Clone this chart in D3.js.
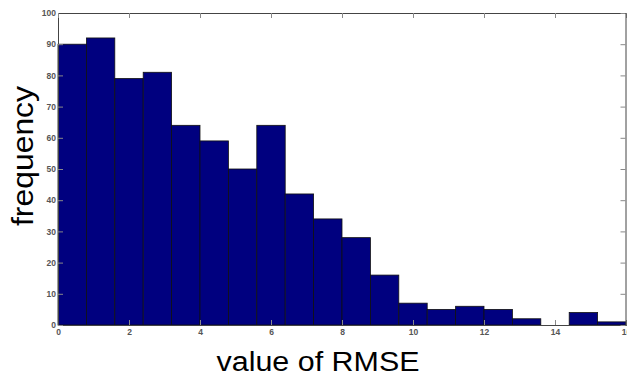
<!DOCTYPE html>
<html>
<head>
<meta charset="utf-8">
<script src="https://cdn.jsdelivr.net/npm/d3@7"></script>
<style>
  body { margin: 0; background: #fff; }
  svg { display: block; }
</style>
</head>
<body>
<div id="chart"></div>
<script>
// histogram of RMSE values, 20 bins from 0 to 16
var binStart = 0, binWidth = 0.8;
var counts = [90, 92, 79, 81, 64, 59, 50, 64, 42, 34, 28, 16, 7, 5, 6, 5, 2, 0, 4, 1];
var xTicks = [0, 2, 4, 6, 8, 10, 12, 14, 16];
var yTicks = [0, 10, 20, 30, 40, 50, 60, 70, 80, 90, 100];

var bins = counts.map((c, i) => ({x0: binStart + i * binWidth, x1: binStart + (i + 1) * binWidth, n: c}));

var width = 627, height = 378;
var margin = {left: 58, right: 1, top: 13, bottom: 53};

var svg = d3.select('#chart').append('svg')
  .attr('width', width)
  .attr('height', height);

var x = d3.scaleLinear()
  .domain([0, 16])
  .range([margin.left, width - margin.right]);
var y = d3.scaleLinear()
  .domain([0, 100])
  .range([height - margin.bottom, margin.top]);

// bars
svg.append('g')
  .selectAll('rect')
  .data(bins)
  .enter()
  .append('rect')
    .attr('x', d => x(d.x0))
    .attr('y', d => y(d.n))
    .attr('width', d => x(d.x1) - x(d.x0))
    .attr('height', d => y(0) - y(d.n))
    .attr('fill', '#00007f')
    .attr('stroke', '#111')
    .attr('stroke-width', 0.8);

// matlab style box with inward ticks
var tickColor = '#444';
var fontTick = '8.5px';

var xAxis = g => g
  .attr('transform', `translate(0,${y(0)})`)
  .call(d3.axisBottom(x).tickValues(xTicks).tickSize(-5).tickPadding(4).tickFormat(d3.format('d')))
  .call(g => g.select('.domain').attr('stroke', tickColor))
  .call(g => g.selectAll('.tick line').attr('stroke', '#888'))
  .call(g => g.selectAll('.tick text').attr('fill', '#555').attr('dy', '0.71em').attr('y', 4));

var yAxis = g => g
  .attr('transform', `translate(${x(0)},0)`)
  .call(d3.axisLeft(y).tickValues(yTicks).tickSize(-5).tickPadding(2))
  .call(g => g.select('.domain').attr('stroke', tickColor))
  .call(g => g.selectAll('.tick line').attr('stroke', '#888'))
  .call(g => g.selectAll('.tick text').attr('fill', '#555'));

var xTop = g => g
  .attr('transform', `translate(0,${y(100)})`)
  .call(d3.axisTop(x).tickValues(xTicks).tickSize(-5).tickFormat(''))
  .call(g => g.select('.domain').attr('stroke', tickColor))
  .call(g => g.selectAll('.tick line').attr('stroke', '#888'));

var yRight = g => g
  .attr('transform', `translate(${x(16) - 0.5},0)`)
  .call(d3.axisRight(y).tickValues(yTicks).tickSize(-5).tickFormat(''))
  .call(g => g.select('.domain').attr('stroke', tickColor))
  .call(g => g.selectAll('.tick line').attr('stroke', '#888'));

svg.append('g').style('font', fontTick + ' Arial, "Liberation Sans", sans-serif').style('font-weight', 'bold').call(xAxis);
svg.append('g').style('font', fontTick + ' Arial, "Liberation Sans", sans-serif').style('font-weight', 'bold').call(yAxis);
svg.append('g').call(xTop);
svg.append('g').call(yRight);

// axis titles
svg.append('text')
  .attr('x', 318)
  .attr('y', 371)
  .attr('text-anchor', 'middle')
  .attr('textLength', 203)
  .attr('lengthAdjust', 'spacingAndGlyphs')
  .style('font', '27px Arial, "Liberation Sans", sans-serif')
  .attr('fill', '#000')
  .text('value of RMSE');

svg.append('text')
  .attr('transform', 'translate(33,156) rotate(-90)')
  .attr('text-anchor', 'middle')
  .attr('textLength', 140)
  .attr('lengthAdjust', 'spacingAndGlyphs')
  .style('font', '29px Arial, "Liberation Sans", sans-serif')
  .attr('fill', '#000')
  .text('frequency');
</script>
</body>
</html>
